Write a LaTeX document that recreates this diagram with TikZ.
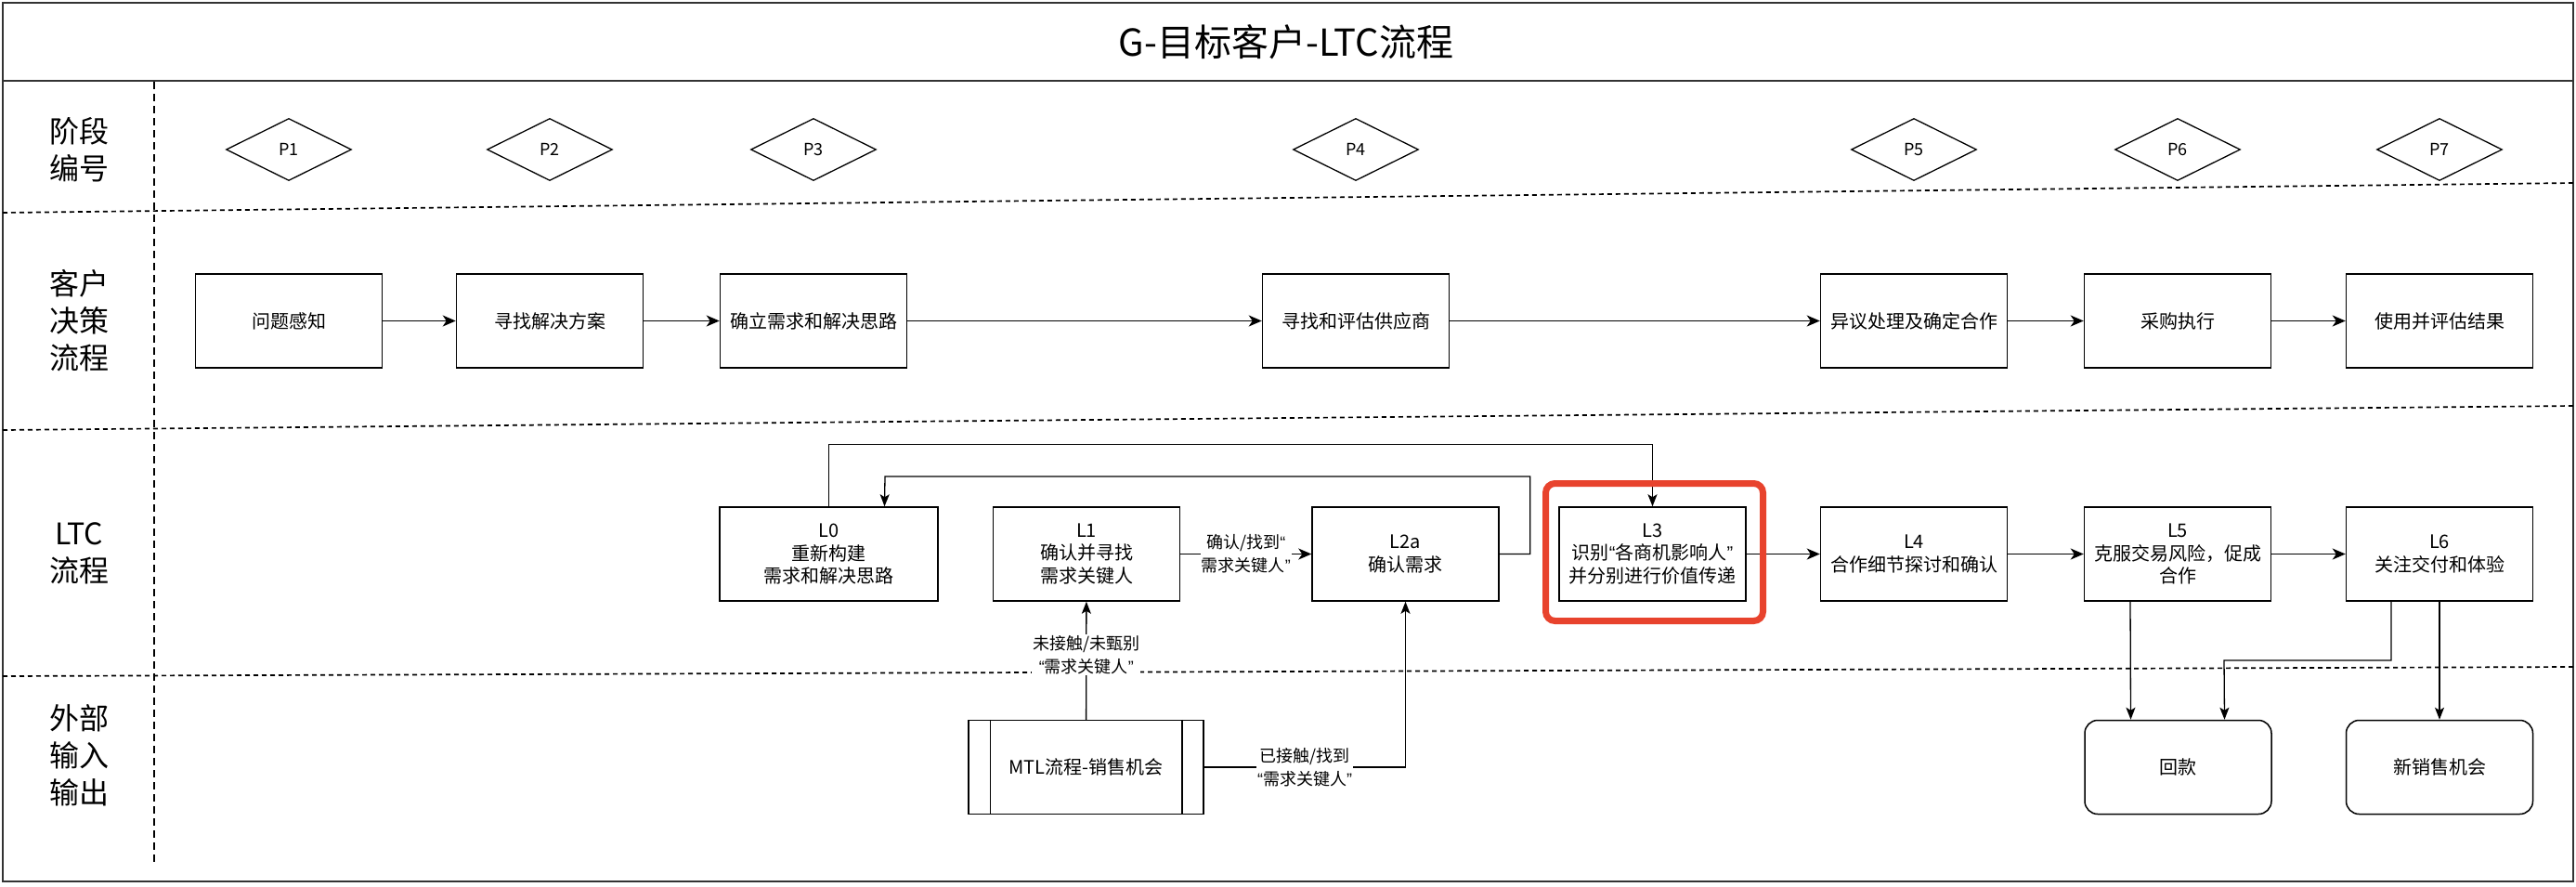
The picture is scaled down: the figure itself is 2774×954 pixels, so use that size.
\documentclass[tikz,border=0pt]{standalone}
\usepackage{fontspec}
\setmainfont{Noto Sans CJK SC}
\newfontfamily\quotefont{Liberation Sans}
\newcommand{\lquo}{{\quotefont “}}
\newcommand{\rquo}{{\quotefont ”}}
\usetikzlibrary{arrows.meta, positioning, shapes.geometric}

\definecolor{markred}{RGB}{232,67,45}

\begin{document}
\begin{tikzpicture}[x=1pt, y=-1pt,
    >={Stealth[length=14pt, width=12pt, inset=4pt]},
    stage/.style={draw, line width=1.3pt, shape=diamond, minimum width=135pt,
                  minimum height=67pt, inner sep=0pt, font=\fontsize{18}{22}\selectfont},
    proc/.style={draw, line width=1.5pt, minimum width=201pt, minimum height=101pt,
                 inner sep=0pt, align=center, font=\fontsize{20}{24.5}\selectfont},
    term/.style={proc, rounded corners=14pt},
    lane/.style={align=center, font=\fontsize{32}{40}\selectfont},
    flow/.style={->, line width=1.5pt},
    link/.style={->, line width=1.3pt, >={Stealth[length=13pt, width=10pt, inset=3pt]}},
    lbl/.style={fill=white, align=center, inner sep=1pt, font=\fontsize{18}{25}\selectfont},
    sep/.style={line width=1.7pt, dash pattern=on 5pt off 4pt}]
  \useasboundingbox (0,0) rectangle (2774,954);

  % Frame and title
  \draw[line width=2.5pt, black!80] (3,3) rectangle (2771,949);
  \draw[line width=2.5pt, black!80] (3,87) -- (2771,87);
  \node[font=\fontsize{40}{48}\selectfont] (title) at (1385,45) {G-目标客户-LTC流程};

  % Lanes
  \draw[sep] (3,229) -- (2771,197);
  \draw[sep] (3,463) -- (2771,437);
  \draw[sep] (3,728) -- (2771,718);
  \draw[line width=1.3pt, dash pattern=on 8pt off 5pt] (166,88) -- (166,932);
  \node[lane] (lanep) at (85,161) {阶段\\编号};
  \node[lane] (lanec) at (85,345) {客户\\决策\\流程};
  \node[lane] (lanel) at (85,596) {LTC\\流程};
  \node[lane] (lanex) at (85,813) {外部\\输入\\输出};

  % Stages
  \node[stage] (p1) at (311,161) {P1};
  \node[stage] (p2) at (592,161) {P2};
  \node[stage] (p3) at (876,161) {P3};
  \node[stage] (p4) at (1460,161) {P4};
  \node[stage] (p5) at (2061,161) {P5};
  \node[stage] (p6) at (2345,161) {P6};
  \node[stage] (p7) at (2627,161) {P7};

  % Customer decision
  \node[proc] (c1) at (311,345.5) {问题感知};
  \node[proc] (c2) at (592,345.5) {寻找解决方案};
  \node[proc] (c3) at (876,345.5) {确立需求和解决思路};
  \node[proc] (c4) at (1460,345.5) {寻找和评估供应商};
  \node[proc] (c5) at (2061,345.5) {异议处理及确定合作};
  \node[proc] (c6) at (2345,345.5) {采购执行};
  \node[proc] (c7) at (2627,345.5) {使用并评估结果};
  \draw[flow] (c1) -- (c2);
  \draw[flow] (c2) -- (c3);
  \draw[flow] (c3) -- (c4);
  \draw[flow] (c4) -- (c5);
  \draw[flow] (c5) -- (c6);
  \draw[flow] (c6) -- (c7);

  % LTC
  \node[proc, minimum width=235pt] (l0) at (892.5,596.5) {L0\\重新构建\\需求和解决思路};
  \node[proc] (l1) at (1170,596.5) {L1\\确认并寻找\\需求关键人};
  \node[proc] (l2a) at (1513.5,596.5) {L2a\\确认需求};
  \node[proc] (l3) at (1779.5,596.5) {L3\\识别\lquo 各商机影响人\rquo\\并分别进行价值传递};
  \node[proc] (l4) at (2061,596.5) {L4\\合作细节探讨和确认};
  \node[proc] (l5) at (2345,596.5) {L5\\克服交易风险，促成\\合作};
  \node[proc] (l6) at (2627,596.5) {L6\\关注交付和体验};
  \draw[flow] (l1) -- node[lbl] {确认/找到\lquo\\需求关键人\rquo} (l2a);
  \draw[link] (l2a.east) -- ++(33,0) |- (953,513) -- ([xshift=60pt]l0.north);
  \draw[link] (l0.north) -- ++(0,-67) -| (l3.north);
  \draw[flow] (l3) -- (l4);
  \draw[flow] (l4) -- (l5);
  \draw[flow] (l5) -- (l6);

  % Inputs and outputs
  \node[proc, minimum width=253pt] (mtl) at (1169.5,826) {MTL流程-销售机会};
  \draw[line width=1.5pt] ([xshift=24pt]mtl.north west) -- ([xshift=24pt]mtl.south west);
  \draw[line width=1.5pt] ([xshift=-24pt]mtl.north east) -- ([xshift=-24pt]mtl.south east);
  \node[term] (pay) at (2345.5,826) {回款};
  \node[term] (newop) at (2627,826) {新销售机会};
  \draw[link] (mtl) -- node[lbl, pos=0.55] {未接触/未甄别\\\lquo 需求关键人\rquo} (l1);
  \draw[link] (mtl.east) -| node[lbl, pos=0.25] {已接触/找到\\\lquo 需求关键人\rquo} (l2a.south);
  \draw[link] ([xshift=-51pt]l5.south) -- ([xshift=-51pt]pay.north);
  \draw[link] ([xshift=-52pt]l6.south) |- (2395,711) -- ([xshift=50pt]pay.north);
  \draw[link] (l6) -- (newop);

  % Highlight
  \draw[markred, line width=7pt, rounded corners=10pt] (1664.5,520.5) rectangle (1898.5,668.5);
\end{tikzpicture}
\end{document}
